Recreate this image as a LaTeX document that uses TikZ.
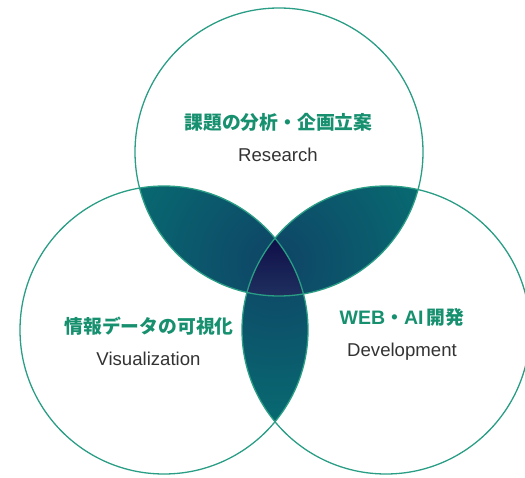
\documentclass[tikz,border=0pt]{standalone}
\usepackage{fontspec}
\setmainfont{Liberation Sans}
\newfontfamily\cjk{Noto Sans CJK JP}
\definecolor{ring}{HTML}{2A9D85}
\definecolor{ttl}{HTML}{17906F}
\definecolor{sub}{HTML}{333333}
\definecolor{lensin}{HTML}{0F4466}
\definecolor{lensout}{HTML}{00907C}
\definecolor{coretop}{HTML}{0E0B46}
\definecolor{corebot}{HTML}{1F3260}
\tikzset{
  ringline/.style={draw=ring, line width=1.3pt},
  ttlnode/.style={text=ttl, font=\cjk\bfseries\fontsize{18.8}{21}\selectfont, inner sep=0pt},
  subnode/.style={text=sub, font=\fontsize{18.6}{21}\selectfont, inner sep=0pt},
}
\newcommand{\latb}[1]{{\rmfamily\bfseries\fontsize{19.5}{21}\selectfont #1}}
\begin{document}
\begin{tikzpicture}[x=1pt,y=-1pt]
\useasboundingbox (0,0) rectangle (525,478);
\clip (0,0) rectangle (525,478);
\coordinate (T) at (279,152);
\coordinate (L) at (164,330);
\coordinate (R) at (386,330);
\coordinate (C) at (276,262);
% pairwise lenses
\begin{scope}
  \clip (T) circle (144pt);
  \clip (L) circle (144pt);
  \shade[inner color=lensin, outer color=lensout] (C) circle (320pt);
\end{scope}
\begin{scope}
  \clip (T) circle (144pt);
  \clip (R) circle (144pt);
  \shade[inner color=lensin, outer color=lensout] (C) circle (320pt);
\end{scope}
\begin{scope}
  \clip (L) circle (144pt);
  \clip (R) circle (144pt);
  \shade[inner color=lensin, outer color=lensout] (C) circle (320pt);
\end{scope}
% triple region
\begin{scope}
  \clip (T) circle (144pt);
  \clip (L) circle (144pt);
  \clip (R) circle (144pt);
  \shade[top color=coretop, bottom color=corebot] (230,232) rectangle (322,300);
\end{scope}
% circles
\draw[ringline] (T) circle (144pt);
\draw[ringline] (L) circle (144pt);
\draw[ringline] (R) circle (144pt);
% texts
\node[ttlnode] (t1) at (278.5,122) {課題の分析・企画立案};
\node[subnode] (s1) at (278,155) {Research};
\node[ttlnode] (t2) at (149,326) {情報データの可視化};
\node[subnode] (s2) at (148.5,359) {Visualization};
\node[ttlnode] (t3) at (402,317) {\latb{WEB}・\latb{AI}\,開発};
\node[subnode] (s3) at (402,352) {Development};
\end{tikzpicture}
\end{document}
